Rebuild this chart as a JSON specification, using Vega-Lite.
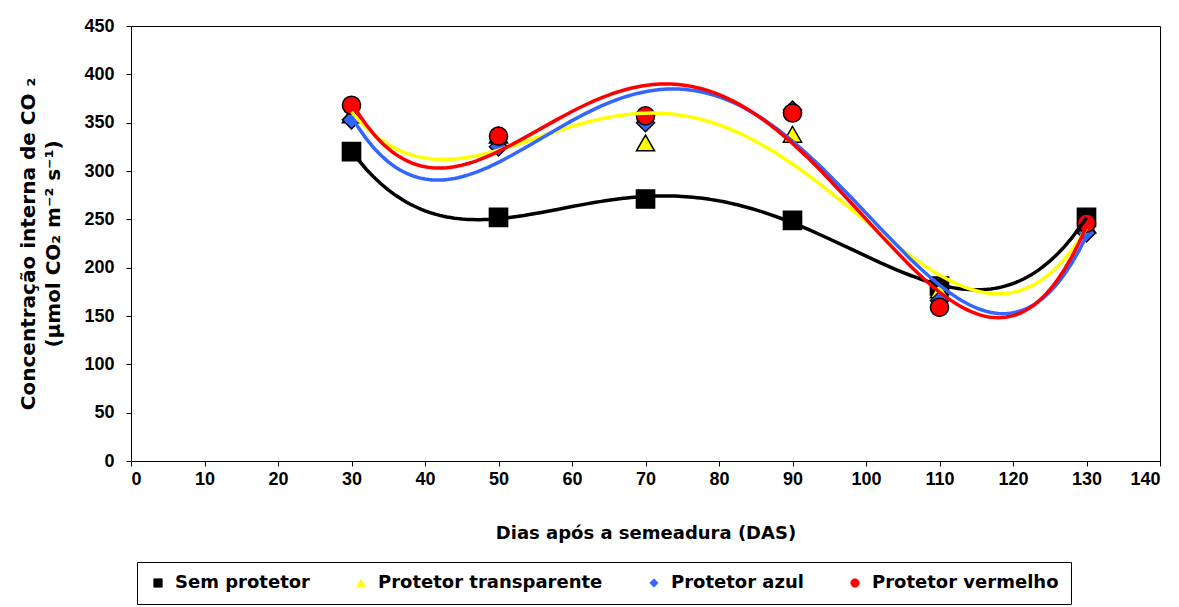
{
  "$schema": "https://vega.github.io/schema/vega-lite/v6.json",
  "width": 1029,
  "height": 435,
  "autosize": {"type": "none"},
  "padding": {"left": 131, "top": 26, "right": 19, "bottom": 146},
  "background": "white",
  "config": {
    "font": "Liberation Sans",
    "view": {"stroke": "black", "strokeWidth": 1},
    "axis": {
      "labelFont": "Liberation Sans", "labelFontWeight": "bold", "labelFontSize": 18, "labelColor": "black",
      "titleFont": "DejaVu Sans", "titleFontWeight": "bold", "titleFontSize": 18, "titleColor": "black",
      "domainColor": "black", "tickColor": "black", "tickSize": 5, "grid": false
    }
  },
  "data": {
    "values": [
      {"das": 30, "serie": "Sem protetor", "ci": 320},
      {"das": 50, "serie": "Sem protetor", "ci": 252},
      {"das": 70, "serie": "Sem protetor", "ci": 271},
      {"das": 90, "serie": "Sem protetor", "ci": 249},
      {"das": 110, "serie": "Sem protetor", "ci": 181},
      {"das": 130, "serie": "Sem protetor", "ci": 252},
      {"das": 30, "serie": "Protetor transparente", "ci": 358},
      {"das": 50, "serie": "Protetor transparente", "ci": 337},
      {"das": 70, "serie": "Protetor transparente", "ci": 329},
      {"das": 90, "serie": "Protetor transparente", "ci": 338},
      {"das": 110, "serie": "Protetor transparente", "ci": 177},
      {"das": 130, "serie": "Protetor transparente", "ci": 244},
      {"das": 30, "serie": "Protetor azul", "ci": 353},
      {"das": 50, "serie": "Protetor azul", "ci": 325},
      {"das": 70, "serie": "Protetor azul", "ci": 350},
      {"das": 90, "serie": "Protetor azul", "ci": 363},
      {"das": 110, "serie": "Protetor azul", "ci": 166},
      {"das": 130, "serie": "Protetor azul", "ci": 236},
      {"das": 30, "serie": "Protetor vermelho", "ci": 368},
      {"das": 50, "serie": "Protetor vermelho", "ci": 336},
      {"das": 70, "serie": "Protetor vermelho", "ci": 357},
      {"das": 90, "serie": "Protetor vermelho", "ci": 360},
      {"das": 110, "serie": "Protetor vermelho", "ci": 159},
      {"das": 130, "serie": "Protetor vermelho", "ci": 246}
    ]
  },
  "encoding": {
    "x": {
      "field": "das", "type": "quantitative",
      "scale": {"domain": [0, 140], "nice": false},
      "axis": {"values": [0,10,20,30,40,50,60,70,80,90,100,110,120,130,140], "title": "Dias após a semeadura (DAS)", "titlePadding": 36, "labelPadding": 4}
    },
    "y": {
      "field": "ci", "type": "quantitative",
      "scale": {"domain": [0, 450], "nice": false},
      "axis": {"values": [0,50,100,150,200,250,300,350,400,450], "title": ["Concentração interna de CO ₂", "(µmol CO₂ m⁻² s⁻¹)"], "titleFontSize": 20, "titlePadding": 20, "labelPadding": 12, "titleLineHeight": 25}
    }
  },
  "layer": [
    {
      "mark": {"type": "point", "filled": true, "stroke": "black", "strokeWidth": 1.5, "opacity": 1, "size": 330},
      "encoding": {
        "color": {
          "field": "serie", "type": "nominal",
          "scale": {"domain": ["Sem protetor", "Protetor transparente", "Protetor azul", "Protetor vermelho"], "range": ["#000000", "#FFFF00", "#3366FF", "#FF0000"]},
          "legend": {
            "title": null, "orient": "none", "legendX": 6, "legendY": 536,
            "direction": "horizontal", "columns": 4, "columnPadding": 42,
            "padding": 12, "strokeColor": "black", "fillColor": "white",
            "labelFont": "DejaVu Sans", "labelFontWeight": "bold", "labelFontSize": 18, "labelColor": "black", "labelLimit": 500,
            "symbolSize": 70, "symbolStrokeWidth": 0.8, "symbolStrokeColor": "black", "labelOffset": 8
          }
        },
        "shape": {
          "field": "serie", "type": "nominal",
          "scale": {"domain": ["Sem protetor", "Protetor transparente", "Protetor azul", "Protetor vermelho"], "range": ["square", "triangle-up", "diamond", "circle"]}
        }
      }
    },
    {
      "transform": [
        {"regression": "ci", "on": "das", "groupby": ["serie"], "method": "poly", "order": 4, "extent": [30, 130]}
      ],
      "mark": {"type": "line", "strokeWidth": 3.5, "interpolate": "linear"},
      "encoding": {
        "stroke": {
          "field": "serie", "type": "nominal",
          "scale": {"domain": ["Sem protetor", "Protetor transparente", "Protetor azul", "Protetor vermelho"], "range": ["#000000", "#FFFF00", "#3366FF", "#FF0000"]},
          "legend": null
        }
      }
    }
  ]
}
